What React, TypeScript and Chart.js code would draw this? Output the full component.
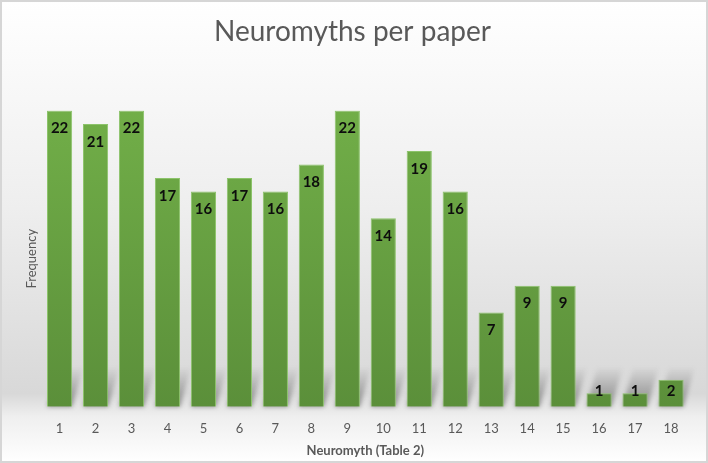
import { useEffect, useRef } from "react";
import { Chart, registerables } from "chart.js";
Chart.register(...registerables);

const myths = ["1", "2", "3", "4", "5", "6", "7", "8", "9", "10", "11", "12", "13", "14", "15", "16", "17", "18"];
const frequency = [22, 21, 22, 17, 16, 17, 16, 18, 22, 14, 19, 16, 7, 9, 9, 1, 1, 2];

const FONT = "Lato, 'Noto Sans', sans-serif";

// page background (white -> grey -> white) and the thin frame
const backdrop = {
  id: "backdrop",
  beforeDraw(chart: any) {
    const { ctx, width, height } = chart;
    const g = ctx.createLinearGradient(0, 0, 0, height);
    g.addColorStop(0, "#ffffff");
    g.addColorStop(0.45, "#eeeeee");
    g.addColorStop(0.85, "#d8d8d8");
    g.addColorStop(0.9, "#efefef");
    g.addColorStop(1, "#ffffff");
    ctx.save();
    ctx.fillStyle = g;
    ctx.fillRect(0, 0, width, height);
    ctx.strokeStyle = "#d6d6d6";
    ctx.lineWidth = 2;
    ctx.strokeRect(1, 1, width - 2, height - 2);
    ctx.restore();
  },
};

// soft slanted shadow behind each bar
const barShadows = {
  id: "barShadows",
  beforeDatasetsDraw(chart: any) {
    const { ctx } = chart;
    const meta = chart.getDatasetMeta(0);
    ctx.save();
    ctx.filter = "blur(2px)";
    meta.data.forEach((bar: any) => {
      const half = bar.width / 2;
      const base = bar.base;
      const g = ctx.createLinearGradient(0, base, 0, base - 40);
      g.addColorStop(0, "rgba(70,70,70,0.55)");
      g.addColorStop(1, "rgba(70,70,70,0)");
      ctx.fillStyle = g;
      ctx.beginPath();
      ctx.moveTo(bar.x - half, base);
      ctx.lineTo(bar.x + half, base);
      ctx.lineTo(bar.x + half + 11, base - 40);
      ctx.lineTo(bar.x - half + 11, base - 40);
      ctx.closePath();
      ctx.fill();
    });
    ctx.restore();
  },
};

// value labels at the inside end of each bar
const barLabels = {
  id: "barLabels",
  afterDatasetsDraw(chart: any) {
    const { ctx } = chart;
    const meta = chart.getDatasetMeta(0);
    ctx.save();
    ctx.font = `bold 15px ${FONT}`;
    ctx.fillStyle = "#0d0d0d";
    ctx.textAlign = "center";
    ctx.textBaseline = "middle";
    meta.data.forEach((bar: any, i: number) => {
      const y = Math.min(bar.y + 18, bar.base - 16);
      ctx.fillText(String(frequency[i]), bar.x, y);
    });
    ctx.restore();
  },
};

export default function App() {
  const canvasRef = useRef<HTMLCanvasElement>(null);

  useEffect(() => {
    if (!canvasRef.current) return;
    const ctx = canvasRef.current.getContext("2d");
    if (!ctx) return;

    const chart = new Chart(ctx, {
      type: "bar",
      data: {
        labels: myths,
        datasets: [{
          label: "Frequency",
          data: frequency,
          backgroundColor: (c: any) => {
            const area = c.chart.chartArea;
            if (!area) return "#6aa443";
            const g = c.chart.ctx.createLinearGradient(0, area.top, 0, area.bottom);
            g.addColorStop(0, "#71ae48");
            g.addColorStop(1, "#5b8f3a");
            return g;
          },
          borderColor: "#8cc36a",
          borderWidth: 1,
          barPercentage: 0.7,
          categoryPercentage: 1,
        }],
      },
      options: {
        responsive: false,
        animation: false,
        layout: { padding: { left: 16, right: 19, top: 0, bottom: 2 } },
        plugins: {
          legend: { display: false },
          tooltip: { enabled: false },
          title: {
            display: true,
            text: "Neuromyths per paper",
            color: "#595959",
            font: { family: FONT, size: 28, weight: "normal" },
            padding: { top: 15, bottom: 62 },
          },
        },
        scales: {
          x: {
            grid: { display: false, drawTicks: false },
            border: { display: false },
            ticks: { color: "#595959", font: { family: FONT, size: 13 }, padding: 14 },
            title: {
              display: true,
              text: "Neuromyth (Table 2)",
              color: "#595959",
              font: { family: FONT, size: 13, weight: "bold" },
              padding: { top: -7, bottom: 2 },
            },
          },
          y: {
            min: 0,
            max: 22,
            grid: { display: false, drawTicks: false },
            border: { display: false },
            ticks: { display: false },
            title: {
              display: true,
              text: "Frequency",
              color: "#595959",
              font: { family: FONT, size: 13 },
              padding: { top: 8, bottom: 2 },
            },
          },
        },
      },
      plugins: [backdrop, barShadows, barLabels],
    });

    return () => chart.destroy();
  }, []);

  return (
    <div style={{ position: "absolute", left: 0, top: 0, width: 708, height: 463 }}>
      <canvas ref={canvasRef} width={708} height={463} />
    </div>
  );
}
